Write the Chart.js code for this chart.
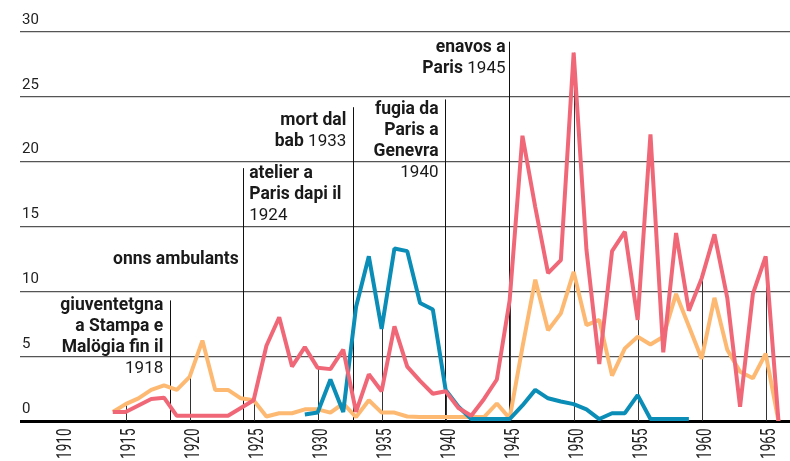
<!DOCTYPE html>
<html>
<head>
<meta charset="utf-8">
<script src="https://cdn.jsdelivr.net/npm/chart.js@4"></script>
<style>
  html, body { margin: 0; padding: 0; background: #fff; }
  #wrap { width: 790px; height: 461px; }
</style>
</head>
<body>
<div id="wrap"><canvas id="myChart" width="790" height="461"></canvas></div>
<script>
const years = [1914, 1915, 1916, 1917, 1918, 1919, 1920, 1921, 1922, 1923,
    1924, 1925, 1926, 1927, 1928, 1929, 1930, 1931, 1932, 1933,
    1934, 1935, 1936, 1937, 1938, 1939, 1940, 1941, 1942, 1943,
    1944, 1945, 1946, 1947, 1948, 1949, 1950, 1951, 1952, 1953,
    1954, 1955, 1956, 1957, 1958, 1959, 1960, 1961, 1962, 1963,
    1964, 1965, 1966];

const red = [0.7, 0.7, 1.2, 1.7, 1.8, 0.4, 0.4, 0.4, 0.4, 0.4,
    1.0, 1.6, 5.8, 8.0, 4.2, 5.7, 4.1, 4.0, 5.5, 0.7,
    3.6, 2.3, 7.3, 4.2, 3.1, 2.1, 2.3, 1.0, 0.4, 1.7,
    3.2, 9.3, 22.0, 16.5, 11.4, 12.4, 28.4, 13.2, 4.4, 13.1,
    14.6, 7.8, 22.1, 5.3, 14.5, 8.5, 11.0, 14.4, 9.5, 1.1,
    9.8, 12.7, 0];

const blue = [null, null, null, null, null, null, null, null, null, null,
    null, null, null, null, null, 0.5, 0.65, 3.2, 0.7, 8.8,
    12.7, 7.1, 13.3, 13.1, 9.1, 8.6, 2.4, 1.1, 0.15, 0.15,
    0.15, 0.15, 1.2, 2.4, 1.75, 1.5, 1.3, 0.9, 0.15, 0.6,
    0.6, 2.0, 0.15, 0.15, 0.15, 0.15, null, null, null, null,
    null, null, null];

const orange = [0.7, 1.3, 1.75, 2.4, 2.75, 2.4, 3.4, 6.2, 2.4, 2.4,
    1.75, 1.6, 0.35, 0.6, 0.6, 0.9, 0.9, 0.65, 1.35, 0.3,
    1.6, 0.65, 0.65, 0.35, 0.3, 0.3, 0.3, 0.3, 0.3, 0.3,
    1.35, 0.2, 5.7, 10.9, 7.0, 8.3, 11.5, 7.4, 7.8, 3.5,
    5.6, 6.5, 5.9, 6.5, 9.8, 7.3, 4.8, 9.5, 5.5, 3.8,
    3.3, 5.2, 0];

const xTicks = [1910, 1915, 1920, 1925, 1930, 1935, 1940, 1945, 1950, 1955, 1960, 1965];
const yTicks = [0, 5, 10, 15, 20, 25, 30];

// text notes: each line is a list of [text, bold]
const notes = [
    { year: 1918.45, top: 9.3, side: 'left', lines: [
        [['giuventetgna', true]], [['a Stampa e', true]], [['Malögia fin il', true]], [['1918', false]]] },
    { year: 1924.15, top: 12.1, side: 'left', noLine: true, lines: [
        [['onns ambulants', true]]] },
    { year: 1924.15, top: 19.5, side: 'right', lines: [
        [['atelier a', true]], [['Paris dapi il', true]], [['1924', false]]] },
    { year: 1932.75, top: 24.2, side: 'left', lines: [
        [['mort dal', true]], [['bab ', true], ['1933', false]]] },
    { year: 1939.95, top: 24.8, side: 'left', lines: [
        [['fugia da', true]], [['Paris a', true]], [['Genevra', true]], [['1940', false]]] },
    { year: 1944.95, top: 29.25, side: 'left', lines: [
        [['enavos a', true]], [['Paris ', true], ['1945', false]]] }
];

const FAMILY = 'Roboto, "Open Sans", sans-serif';
const boldFont = '700 17.5px ' + FAMILY;
const regFont = '400 17px ' + FAMILY;

const valueAt = (arr, yr) => {
    const i = years.indexOf(yr);
    return i < 0 ? null : arr[i];
};

const markLines = {
    id: 'markLines',
    beforeDatasetsDraw(chart) {
        const { ctx, scales: { x, y } } = chart;
        const base = y.getPixelForValue(0);
        ctx.save();
        ctx.lineWidth = 1;
        ctx.strokeStyle = '#333';
        for (const t of xTicks) {
            const vals = [valueAt(red, t), valueAt(blue, t), valueAt(orange, t)].filter(v => v != null);
            if (!vals.length) continue;
            const px = Math.round(x.getPixelForValue(t)) + 0.5;
            ctx.beginPath();
            ctx.moveTo(px, base);
            ctx.lineTo(px, y.getPixelForValue(Math.max(...vals)));
            ctx.stroke();
        }
        ctx.strokeStyle = '#111';
        for (const n of notes) {
            if (n.noLine) continue;
            const px = Math.round(x.getPixelForValue(n.year)) + 0.5;
            ctx.beginPath();
            ctx.moveTo(px, base);
            ctx.lineTo(px, y.getPixelForValue(n.top));
            ctx.stroke();
        }
        ctx.restore();
    },
    afterDraw(chart) {
        const { ctx, scales: { x, y } } = chart;
        ctx.save();
        ctx.fillStyle = '#1a1a1a';
        ctx.textBaseline = 'alphabetic';
        for (const n of notes) {
            const lx = x.getPixelForValue(n.year);
            const ly = y.getPixelForValue(n.top);
            let by = n.noLine ? ly : ly + 10;
            let gap = n.noLine ? 4 : 6.5;
            if (n.year > 1932 && n.year < 1933) by = ly + 17.5;
            if (n.year > 1939 && n.year < 1941) by = ly + 14.5;
            if (n.year > 1944) gap = 3.5;
            for (const line of n.lines) {
                let w = 0;
                for (const [txt, b] of line) {
                    ctx.font = b ? boldFont : regFont;
                    w += ctx.measureText(txt).width;
                }
                let sx = n.side === 'left' ? lx - gap - w : lx + gap;
                for (const [txt, b] of line) {
                    ctx.font = b ? boldFont : regFont;
                    ctx.fillText(txt, sx, by);
                    sx += ctx.measureText(txt).width;
                }
                by += 21;
            }
        }
        // condensed, rotated year labels along the x axis
        ctx.font = '400 20.5px ' + FAMILY;
        ctx.fillStyle = '#222';
        ctx.textAlign = 'right';
        const base = y.getPixelForValue(0);
        for (const t of x.ticks) {
            const px = x.getPixelForValue(t.value);
            ctx.save();
            ctx.translate(px + 9.3, base + 7.5);
            ctx.rotate(-Math.PI / 2);
            ctx.scale(0.66, 1);
            ctx.fillText(String(t.value), 0, 0);
            ctx.restore();
        }
        ctx.restore();
    }
};

const ctx = document.getElementById('myChart').getContext('2d');
const myChart = new Chart(ctx, {
    type: 'line',
    data: {
        labels: years,
        datasets: [
            { label: 'red', data: years.map((yr, i) => ({ x: yr, y: red[i] })), borderColor: '#F06878' },
            { label: 'blue', data: years.map((yr, i) => ({ x: yr, y: blue[i] })), borderColor: '#0A8DB6' },
            { label: 'orange', data: years.map((yr, i) => ({ x: yr, y: orange[i] })), borderColor: '#FDB972' }
        ]
    },
    options: {
        responsive: false,
        animation: false,
        layout: { padding: { top: 32, left: 0, right: 0, bottom: 0 } },
        elements: {
            point: { radius: 0 },
            line: { borderWidth: 4, tension: 0, borderJoinStyle: 'bevel', fill: false }
        },
        plugins: { legend: { display: false }, tooltip: { enabled: false } },
        scales: {
            x: {
                type: 'linear',
                min: 1906.75,
                max: 1966.9,
                grid: { display: false, drawTicks: false },
                border: { display: false },
                afterBuildTicks: s => { s.ticks = xTicks.map(v => ({ value: v })); },
                afterFit: s => { s.height = 40; s.paddingLeft = 0; s.paddingRight = 0; },
                ticks: { display: false }
            },
            y: {
                min: 0,
                max: 30,
                afterBuildTicks: s => { s.ticks = yTicks.map(v => ({ value: v })); },
                afterFit: s => { s.width = 20; },
                border: { display: false },
                grid: {
                    drawTicks: false,
                    color: c => c.tick && c.tick.value === 0 ? '#000' : '#555',
                    lineWidth: c => c.tick && c.tick.value === 0 ? 3 : 1.3
                },
                ticks: {
                    mirror: true,
                    padding: 2,
                    labelOffset: -12,
                    color: '#222',
                    font: { family: FAMILY, size: 15 }
                }
            }
        }
    },
    plugins: [markLines]
});
</script>
</body>
</html>
